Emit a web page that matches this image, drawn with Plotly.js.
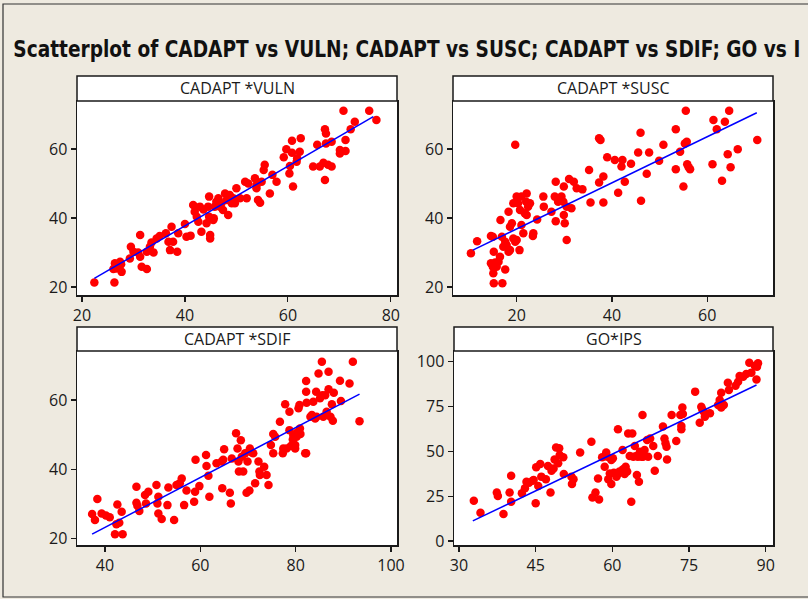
<!DOCTYPE html>
<html>
<head>
<meta charset="utf-8">
<script src="https://cdn.plot.ly/plotly-3.0.1.min.js"></script>
<style>html,body{margin:0;padding:0;background:#eeeae0;}#chart{width:808px;height:599px;}</style>
</head>
<body>
<div id="chart"></div>
<script>
// ---------- DATA ----------
const panelTitles = ["CADAPT *VULN", "CADAPT *SUSC", "CADAPT *SDIF", "GO*IPS"];
const chartTitle = "Scatterplot of CADAPT vs VULN; CADAPT vs SUSC; CADAPT vs SDIF; GO vs I";

const vulnX = [22.4,26.3,26.4,27.4,26.7,27.7,26.1,27.6,29.5,29.3,30.0,31.3,31.3,31.6,32.6,32.6,30.9,33.5,33.9,33.2,34.5,35.1,36.3,36.8,37.1,37.4,37.7,38.7,38.5,40.0,40.3,41.1,41.6,41.9,42.3,42.6,42.9,43.2,43.6,44.2,44.5,44.7,44.9,44.9,44.7,45.5,45.6,45.8,46.1,46.5,46.8,47.1,47.4,47.8,48.1,48.4,48.7,49.1,49.4,49.7,50.0,50.7,51.7,52.0,52.3,53.6,53.9,53.9,54.2,54.6,54.9,55.3,55.5,56.5,57.0,57.8,59.2,59.7,60.3,60.4,60.8,61.0,60.8,61.7,61.8,62.3,62.5,64.9,65.7,66.2,66.9,67.2,67.2,67.4,67.4,67.8,68.5,68.5,70.1,70.1,70.8,71.2,71.2,72.2,73.0,75.8,77.2];
const vulnY = [21.3,21.3,26.9,27.3,25.4,24.4,25.2,26.6,31.7,28.3,30.2,35.1,28.8,25.9,25.2,30.2,30.0,32.9,30.0,31.7,34.1,34.8,35.6,33.1,30.7,37.5,33.1,35.6,30.2,38.3,34.6,34.9,43.8,41.8,40.4,38.9,43.3,36.0,42.5,38.5,43.3,40.4,35.1,34.1,46.2,39.4,39.9,43.3,44.7,45.7,43.3,44.3,42.3,47.1,45.2,40.9,46.7,44.3,45.7,44.3,48.6,45.7,50.5,45.7,50.0,51.5,49.6,48.6,45.2,44.4,50.5,53.9,55.4,47.1,52.5,50.5,57.6,59.9,52.9,55.1,58.9,49.1,62.4,56.3,57.3,59.2,63.1,54.9,61.2,54.9,56.0,51.0,65.7,64.5,61.6,55.4,62.1,54.9,59.7,58.7,71.1,59.4,62.6,65.7,67.9,71.1,68.4];

const suscX = [10.4,11.7,19.7,14.6,15.0,15.2,15.5,15.1,15.2,14.6,15.0,15.8,16.2,16.5,16.6,17.0,17.6,17.2,16.9,17.6,17.9,18.3,18.6,18.3,18.6,19.0,19.3,19.7,20.0,19.3,20.0,20.3,20.7,21.0,20.6,21.0,21.4,21.7,22.1,22.0,22.4,22.8,22.1,23.4,23.5,24.3,25.6,25.7,27.3,28.2,28.0,28.2,28.7,29.1,29.4,29.8,29.9,29.9,30.1,30.5,30.5,31.0,31.5,32.0,32.6,33.8,35.2,35.5,37.3,37.3,37.6,38.2,38.2,39.0,40.6,41.3,42.0,42.2,42.7,44.0,45.5,46.0,46.1,47.3,47.8,49.9,50.8,53.4,53.4,54.3,55.0,55.3,55.7,55.5,55.8,56.1,56.4,61.1,61.3,62.0,63.1,63.7,64.3,64.6,64.9,66.4,70.5];
const suscY = [29.8,33.3,61.2,34.8,34.6,30.2,27.1,24.0,21.1,26.9,25.9,25.9,27.3,28.8,39.4,21.1,25.1,31.7,34.6,33.1,32.2,30.2,30.7,41.8,37.5,38.5,34.1,33.1,33.6,44.3,46.2,44.3,42.3,46.2,30.7,38.0,35.6,41.4,47.1,44.7,43.3,44.3,40.9,34.8,35.6,39.6,46.2,43.3,41.8,50.5,46.2,39.1,44.7,45.7,46.2,44.7,49.1,40.9,38.5,43.3,33.6,51.3,42.8,50.5,48.6,48.3,53.9,44.5,50.3,63.1,62.6,52.0,44.5,57.6,56.8,47.3,54.9,56.8,50.5,55.7,59.0,64.7,45.0,52.8,59.0,56.6,61.2,65.7,54.1,59.2,49.1,61.6,62.1,71.1,55.6,54.7,54.1,55.6,68.4,65.7,50.8,67.9,58.5,71.1,54.7,59.9,62.6];

const sdifX = [37.3,37.9,38.4,39.3,40.2,41.0,42.1,42.4,43.0,43.5,43.7,42.6,46.6,46.6,46.8,47.2,48.4,48.6,49.1,50.8,51.0,51.2,51.2,51.9,53.1,53.3,54.5,55.0,55.7,56.1,56.6,57.1,58.7,58.9,59.0,59.8,61.2,61.3,61.7,61.9,63.4,64.5,64.6,64.8,65.0,66.2,66.4,66.6,67.5,67.8,68.0,68.1,68.5,68.7,69.0,69.4,69.7,69.9,70.3,70.4,70.8,71.1,71.5,72.2,72.4,72.5,73.4,73.9,74.3,74.8,75.3,75.7,75.3,76.7,77.3,77.4,77.8,78.1,78.7,78.7,79.0,79.4,79.5,79.9,79.9,80.2,80.3,80.6,80.8,80.9,81.0,82.0,82.2,82.2,82.2,82.3,83.1,83.4,83.7,84.1,84.3,84.4,84.8,85.1,85.5,85.6,85.8,86.2,86.5,86.9,86.9,87.3,87.6,87.8,88.0,89.3,89.5,91.3,92.0,93.4];
const sdifY = [27.0,25.3,31.4,27.2,26.6,26.1,21.2,24.1,24.5,27.7,21.2,29.8,34.9,30.3,29.4,27.9,32.5,30.1,33.5,35.4,30.1,32.0,27.2,25.6,29.6,34.7,25.3,35.4,35.9,37.3,29.6,33.8,30.6,33.5,42.7,35.1,44.1,40.9,38.1,32.0,41.7,42.2,34.5,42.7,45.8,33.2,30.1,43.1,50.4,46.0,42.2,39.3,48.4,43.6,39.3,44.6,33.2,42.2,33.8,46.0,44.8,44.6,35.9,42.2,39.3,38.3,40.7,38.3,35.4,47.0,50.2,49.4,44.6,53.7,44.6,46.0,58.8,46.0,56.6,51.3,46.7,48.6,49.9,46.0,47.0,49.4,50.6,57.6,58.6,51.8,50.2,44.6,44.6,65.5,62.4,59.2,55.2,55.7,59.5,54.7,62.4,55.2,67.7,60.5,71.1,61.4,55.2,61.4,56.6,68.2,63.1,55.2,58.8,54.0,62.1,65.6,59.7,64.8,71.1,53.9];

const ipsX = [32.9,34.2,37.4,37.6,38.7,39.9,40.2,40.2,42.3,42.9,43.2,43.7,44.4,44.6,45.0,45.1,45.5,45.9,46.1,47.0,47.4,47.9,48.1,48.5,48.7,49.0,49.4,49.6,49.7,50.4,50.5,52.0,52.1,52.4,53.7,55.9,56.1,56.7,57.2,57.4,58.0,58.5,58.8,59.0,59.2,59.5,59.8,59.8,60.1,60.3,60.8,61.1,61.1,61.4,62.0,62.1,62.4,62.6,62.9,63.1,63.4,63.7,63.9,64.1,64.4,64.7,64.8,65.0,65.2,65.4,65.7,65.9,66.0,66.3,66.8,67.0,67.4,68.0,68.3,68.9,69.9,70.2,70.4,70.6,70.7,71.6,72.5,73.3,73.5,73.5,73.7,73.8,76.2,77.1,77.4,77.6,77.9,78.1,79.1,80.7,81.0,81.3,81.3,81.8,82.6,82.8,84.1,84.6,84.9,85.6,86.2,86.8,87.2,87.9,88.2,88.3,88.5];
const goY = [22.5,15.8,27.0,25.1,15.1,27.0,21.9,36.4,26.6,29.4,33.1,32.5,33.6,34.0,21.0,41.1,30.7,42.9,35.9,34.4,41.8,27.0,39.2,40.5,45.5,52.2,43.3,51.7,48.0,46.7,37.4,35.9,31.8,34.4,49.3,55.4,24.3,27.0,34.9,23.2,46.7,41.4,49.3,47.0,34.4,37.7,31.8,45.2,46.1,38.1,35.9,62.3,37.4,38.7,50.7,40.0,37.4,41.4,38.7,60.0,47.4,21.9,60.0,47.0,53.0,47.4,36.8,47.0,33.1,49.8,47.0,70.3,47.0,50.7,56.3,47.0,57.2,53.0,39.2,47.4,63.8,57.2,54.5,52.6,45.5,70.3,55.8,70.3,62.3,64.1,74.5,70.8,83.3,66.0,74.9,73.4,72.1,69.3,71.2,75.8,78.6,82.7,74.5,75.8,88.3,84.2,86.6,88.8,92.0,91.6,93.1,99.4,93.9,97.6,90.1,97.2,99.1];

// fitted regression lines (end points)
const fitVulnX = [22.4, 76.6], fitVulnY = [22.5, 69.4];
const fitSuscX = [10.8, 70.4], fitSuscY = [30.7, 70.5];
const fitSdifX = [37.3, 93.4], fitSdifY = [21.2, 61.7];
const fitIpsX  = [32.7, 88.2], fitIpsY  = [11.2, 87.0];

const xTicks = [[20,40,60,80],[20,40,60],[40,60,80,100],[30,45,60,75,90]];
const yTicks = [[20,40,60],[20,40,60],[20,40,60],[0,25,50,75,100]];

// ---------- LAYOUT ----------
const W = 808, H = 599;
const px = v => v / W, py = v => 1 - v / H;
const panels = [
  {x: vulnX, y: vulnY, fx: fitVulnX, fy: fitVulnY, l: 77, r: 397, top: 101, bot: 295, stripTop: 76, xr: [19.03, 81.2], yr: [17.7, 73.9]},
  {x: suscX, y: suscY, fx: fitSuscX, fy: fitSuscY, l: 453, r: 773, top: 101, bot: 295, stripTop: 76, xr: [6.64, 73.8], yr: [17.7, 73.9]},
  {x: sdifX, y: sdifY, fx: fitSdifX, fy: fitSdifY, l: 77, r: 397, top: 351, bot: 545, stripTop: 327, xr: [34.13, 101.26], yr: [18.06, 74.2]},
  {x: ipsX, y: goY, fx: fitIpsX, fy: fitIpsY, l: 454, r: 773, top: 351, bot: 545, stripTop: 327, xr: [29.02, 91.43], yr: [-2.23, 105.96]}
];

const tickFont = {family: "Open Sans, DejaVu Sans, sans-serif", size: 16, color: "#1a1a1a"};
const traces = [];
const layout = {
  width: W, height: H,
  margin: {l: 0, r: 0, t: 0, b: 0},
  paper_bgcolor: "#eeeae0",
  plot_bgcolor: "#ffffff",
  showlegend: false,
  shapes: [], annotations: []
};

panels.forEach((p, i) => {
  const n = i + 1;
  const xa = "x" + (n === 1 ? "" : n), ya = "y" + (n === 1 ? "" : n);
  traces.push({x: p.x, y: p.y, xaxis: xa, yaxis: ya, type: "scatter", mode: "markers",
    marker: {color: "#ff0000", size: 8.5, line: {width: 0}}, hoverinfo: "skip"});
  traces.push({x: p.fx, y: p.fy, xaxis: xa, yaxis: ya, type: "scatter", mode: "lines",
    line: {color: "#0000ff", width: 1.5}, hoverinfo: "skip"});
  const axBase = {showgrid: false, zeroline: false, showline: true, mirror: true,
    linecolor: "#1a1a1a", linewidth: 1.5, ticks: "outside", ticklen: 5, tickwidth: 1.2,
    tickcolor: "#1a1a1a", tickfont: tickFont, fixedrange: true};
  layout["xaxis" + (n === 1 ? "" : n)] = Object.assign({}, axBase, {
    domain: [px(p.l), px(p.r)], range: p.xr, anchor: ya, tickvals: xTicks[i]});
  layout["yaxis" + (n === 1 ? "" : n)] = Object.assign({}, axBase, {
    domain: [py(p.bot), py(p.top)], range: p.yr, anchor: xa, tickvals: yTicks[i]});
  // strip
  layout.shapes.push({type: "rect", xref: "paper", yref: "paper",
    x0: px(p.l), x1: px(p.r), y0: py(p.top), y1: py(p.stripTop),
    fillcolor: "#ffffff", line: {color: "#1a1a1a", width: 1.5}, layer: "above"});
  layout.annotations.push({xref: "paper", yref: "paper", x: px((p.l + p.r) / 2),
    y: py((p.top + p.stripTop) / 2), xanchor: "center", yanchor: "middle",
    text: panelTitles[i], showarrow: false,
    font: {family: "Open Sans, DejaVu Sans, sans-serif", size: 16, color: "#1a1a1a"}});
});

// outer frame
layout.shapes.push({type: "rect", xref: "paper", yref: "paper",
  x0: px(3), x1: 1.02, y0: py(597), y1: py(4),
  line: {color: "#333333", width: 1.2}, fillcolor: "rgba(0,0,0,0)", layer: "below"});

layout.annotations.push({xref: "paper", yref: "paper", x: px(13), y: py(49),
  xanchor: "left", yanchor: "middle", text: chartTitle, showarrow: false,
  font: {family: "DejaVu Sans, sans-serif", size: 23, weight: "bold", color: "#111111"}});

Plotly.newPlot("chart", traces, layout, {staticPlot: true, displayModeBar: false}).then(gd => {
  // condense the title horizontally so that it spans the same width as in the reference
  const svg = gd.querySelector(".main-svg");
  gd.querySelectorAll(".annotation-text").forEach(t => {
    if (t.textContent.indexOf("Scatterplot") !== 0) return;
    const target = 787, left = 13.3;
    t.setAttribute("textLength", target);
    t.setAttribute("lengthAdjust", "spacingAndGlyphs");
    const svgRect = svg.getBoundingClientRect();
    const r = t.getBoundingClientRect();
    const dx = left - (r.left - svgRect.left);
    t.setAttribute("x", parseFloat(t.getAttribute("x") || 0) + dx);
    // shrink the annotation's background box to the condensed text as well
    const bg = t.parentNode.querySelector("rect.bg");
    if (bg) {
      const pr = t.parentNode.getBoundingClientRect();
      const bgLeft = left - (pr.left - svgRect.left) + parseFloat(bg.getAttribute("x") || 0);
      bg.setAttribute("width", target + 4);
      bg.setAttribute("x", parseFloat(bg.getAttribute("x") || 0) + (left - 2) - (bg.getBoundingClientRect().left - svgRect.left));
    }
  });
});
</script>
</body>
</html>
